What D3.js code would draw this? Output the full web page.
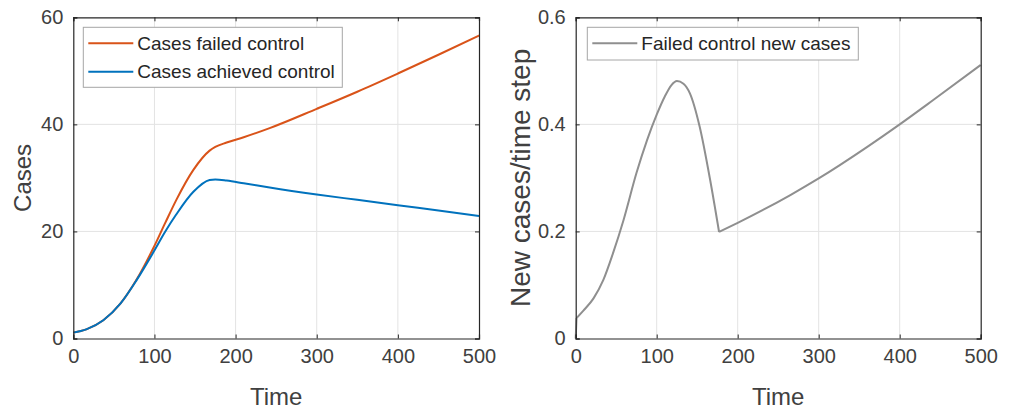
<!DOCTYPE html>
<html>
<head>
<meta charset="utf-8">
<script src="https://cdn.jsdelivr.net/npm/d3@7"></script>
<style>
  body { margin: 0; background: #fff; }
  svg text { font-family: "Liberation Sans", Arial, Helvetica, sans-serif; }
</style>
</head>
<body>
<svg id="chart" width="1011" height="412"></svg>
<script>
// Left panel: cumulative cases
const timeCum = [0, 16, 37, 58, 78, 99, 113, 127, 148, 168, 175, 189, 210, 242, 300, 350, 400, 450, 500];
const casesFailed = [1.1, 1.7, 3.4, 6.5, 11.0, 17.0, 21.5, 25.9, 31.5, 35.1, 35.8, 36.6, 37.6, 39.3, 42.9, 46.1, 49.5, 53.0, 56.6];
const casesAchieved = [1.1, 1.7, 3.4, 6.5, 10.9, 16.2, 19.9, 23.2, 27.4, 29.6, 29.7, 29.5, 29.0, 28.2, 26.9, 25.9, 24.9, 23.9, 22.9];

// Right panel: new cases per time step (control fails at t = 177)
const timeNew = [0, 1, 9.5, 22, 34, 46, 59, 75, 88, 100, 110, 118, 125, 133, 141, 153, 166, 177, 200, 265, 300, 360, 400, 441, 500];
const newCases = [0, 0.038, 0.052, 0.075, 0.109, 0.159, 0.221, 0.309, 0.37, 0.418, 0.452, 0.473, 0.481, 0.476, 0.458, 0.396, 0.296, 0.199, 0.216, 0.268, 0.299, 0.358, 0.4, 0.445, 0.511];
const kinkIndex = 17;

const xTicks = [0, 100, 200, 300, 400, 500];
const yTicksLeft = [0, 20, 40, 60];
const yTicksRight = [0, 0.2, 0.4, 0.6];

const svg = d3.select('#chart');
const textColor = '#404040';
const axisColor = '#262626';
const gridColor = '#e3e3e3';

function panel(opts) {
  const { left, right, top, bottom } = opts;
  const x = d3.scaleLinear().domain([0, 500]).range([left, right]);
  const y = d3.scaleLinear().domain(opts.yDomain).range([bottom, top]);
  const g = svg.append('g');

  // grid
  g.append('g').selectAll('line')
    .data(xTicks.slice(1, -1))
    .enter().append('line')
    .attr('x1', (d) => x(d)).attr('x2', (d) => x(d))
    .attr('y1', top).attr('y2', bottom)
    .attr('stroke', gridColor);
  g.append('g').selectAll('line')
    .data(opts.yTicks.slice(1, -1))
    .enter().append('line')
    .attr('x1', left).attr('x2', right)
    .attr('y1', (d) => y(d)).attr('y2', (d) => y(d))
    .attr('stroke', gridColor);

  // lines, split into pieces where the curve has a sharp corner
  opts.series.forEach((s) => {
    const pts = s.t.map((t, i) => [t, s.values[i]]);
    const breaks = [0, ...(s.breaks || []), pts.length - 1];
    const line = d3.line()
      .x((d) => x(d[0]))
      .y((d) => y(d[1]))
      .curve(d3.curveMonotoneX);
    let d = '';
    for (let k = 0; k < breaks.length - 1; k++) {
      d += line(pts.slice(breaks[k], breaks[k + 1] + 1));
    }
    g.append('path')
      .attr('d', d)
      .attr('fill', 'none')
      .attr('stroke', s.color)
      .attr('stroke-width', 2)
      .attr('stroke-linejoin', 'round');
  });

  // axes (box with inward ticks on all sides)
  const tickLen = 4;
  g.append('g').attr('transform', `translate(0,${bottom})`)
    .call(d3.axisBottom(x).tickValues(xTicks).tickSize(-tickLen).tickPadding(10).tickFormat(d3.format('d')));
  g.append('g').attr('transform', `translate(0,${top})`)
    .call(d3.axisTop(x).tickValues(xTicks).tickSize(-tickLen).tickFormat(''));
  g.append('g').attr('transform', `translate(${left},0)`)
    .call(d3.axisLeft(y).tickValues(opts.yTicks).tickSize(-tickLen).tickPadding(10).tickFormat(opts.yFormat));
  g.append('g').attr('transform', `translate(${right},0)`)
    .call(d3.axisRight(y).tickValues(opts.yTicks).tickSize(-tickLen).tickFormat(''));

  g.selectAll('.domain').attr('stroke', axisColor).attr('stroke-width', 1.2);
  g.selectAll('.tick line').attr('stroke', axisColor);
  g.selectAll('.tick text')
    .attr('fill', textColor)
    .style('font-size', '20px');

  // axis labels
  g.append('text')
    .attr('x', (left + right) / 2)
    .attr('y', 405)
    .attr('text-anchor', 'middle')
    .attr('fill', textColor)
    .style('font-size', '24px')
    .text('Time');
  g.append('text')
    .attr('transform', `translate(${opts.yLabelX},${(top + bottom) / 2}) rotate(-90)`)
    .attr('text-anchor', 'middle')
    .attr('fill', textColor)
    .style('font-size', opts.yLabelSize)
    .text(opts.yLabel);

  // legend
  const lg = g.append('g');
  lg.append('rect')
    .attr('x', opts.legend.x).attr('y', opts.legend.y)
    .attr('width', opts.legend.w).attr('height', opts.legend.h)
    .attr('fill', '#fff')
    .attr('stroke', '#a6a6a6');
  opts.series.forEach((s, i) => {
    const ly = opts.legend.y + 16 + i * 28.4;
    lg.append('line')
      .attr('x1', opts.legend.x + 5).attr('x2', opts.legend.x + 50)
      .attr('y1', ly).attr('y2', ly)
      .attr('stroke', s.color).attr('stroke-width', 2);
    lg.append('text')
      .attr('x', opts.legend.x + 54)
      .attr('y', ly)
      .attr('dy', '0.35em')
      .attr('fill', '#262626')
      .style('font-size', '19px')
      .text(s.name);
  });
}

panel({
  left: 73.3, right: 479, top: 17.3, bottom: 338.5,
  yDomain: [0, 60], yTicks: yTicksLeft, yFormat: d3.format('d'),
  yLabel: 'Cases', yLabelX: 31, yLabelSize: '24px',
  legend: { x: 83.3, y: 27.3, w: 259, h: 60 },
  series: [
    { name: 'Cases failed control', t: timeCum, values: casesFailed, color: '#D95319' },
    { name: 'Cases achieved control', t: timeCum, values: casesAchieved, color: '#0072BD' }
  ]
});

panel({
  left: 575.7, right: 980.7, top: 17.3, bottom: 338.5,
  yDomain: [0, 0.6], yTicks: yTicksRight, yFormat: (d) => (d === 0 ? '0' : d3.format('.1f')(d)),
  yLabel: 'New cases/time step', yLabelX: 530, yLabelSize: '28px',
  legend: { x: 587.3, y: 27.3, w: 271, h: 32.7 },
  series: [
    { name: 'Failed control new cases', t: timeNew, values: newCases, color: '#8f8f8f', breaks: [1, kinkIndex] }
  ]
});
</script>
</body>
</html>
